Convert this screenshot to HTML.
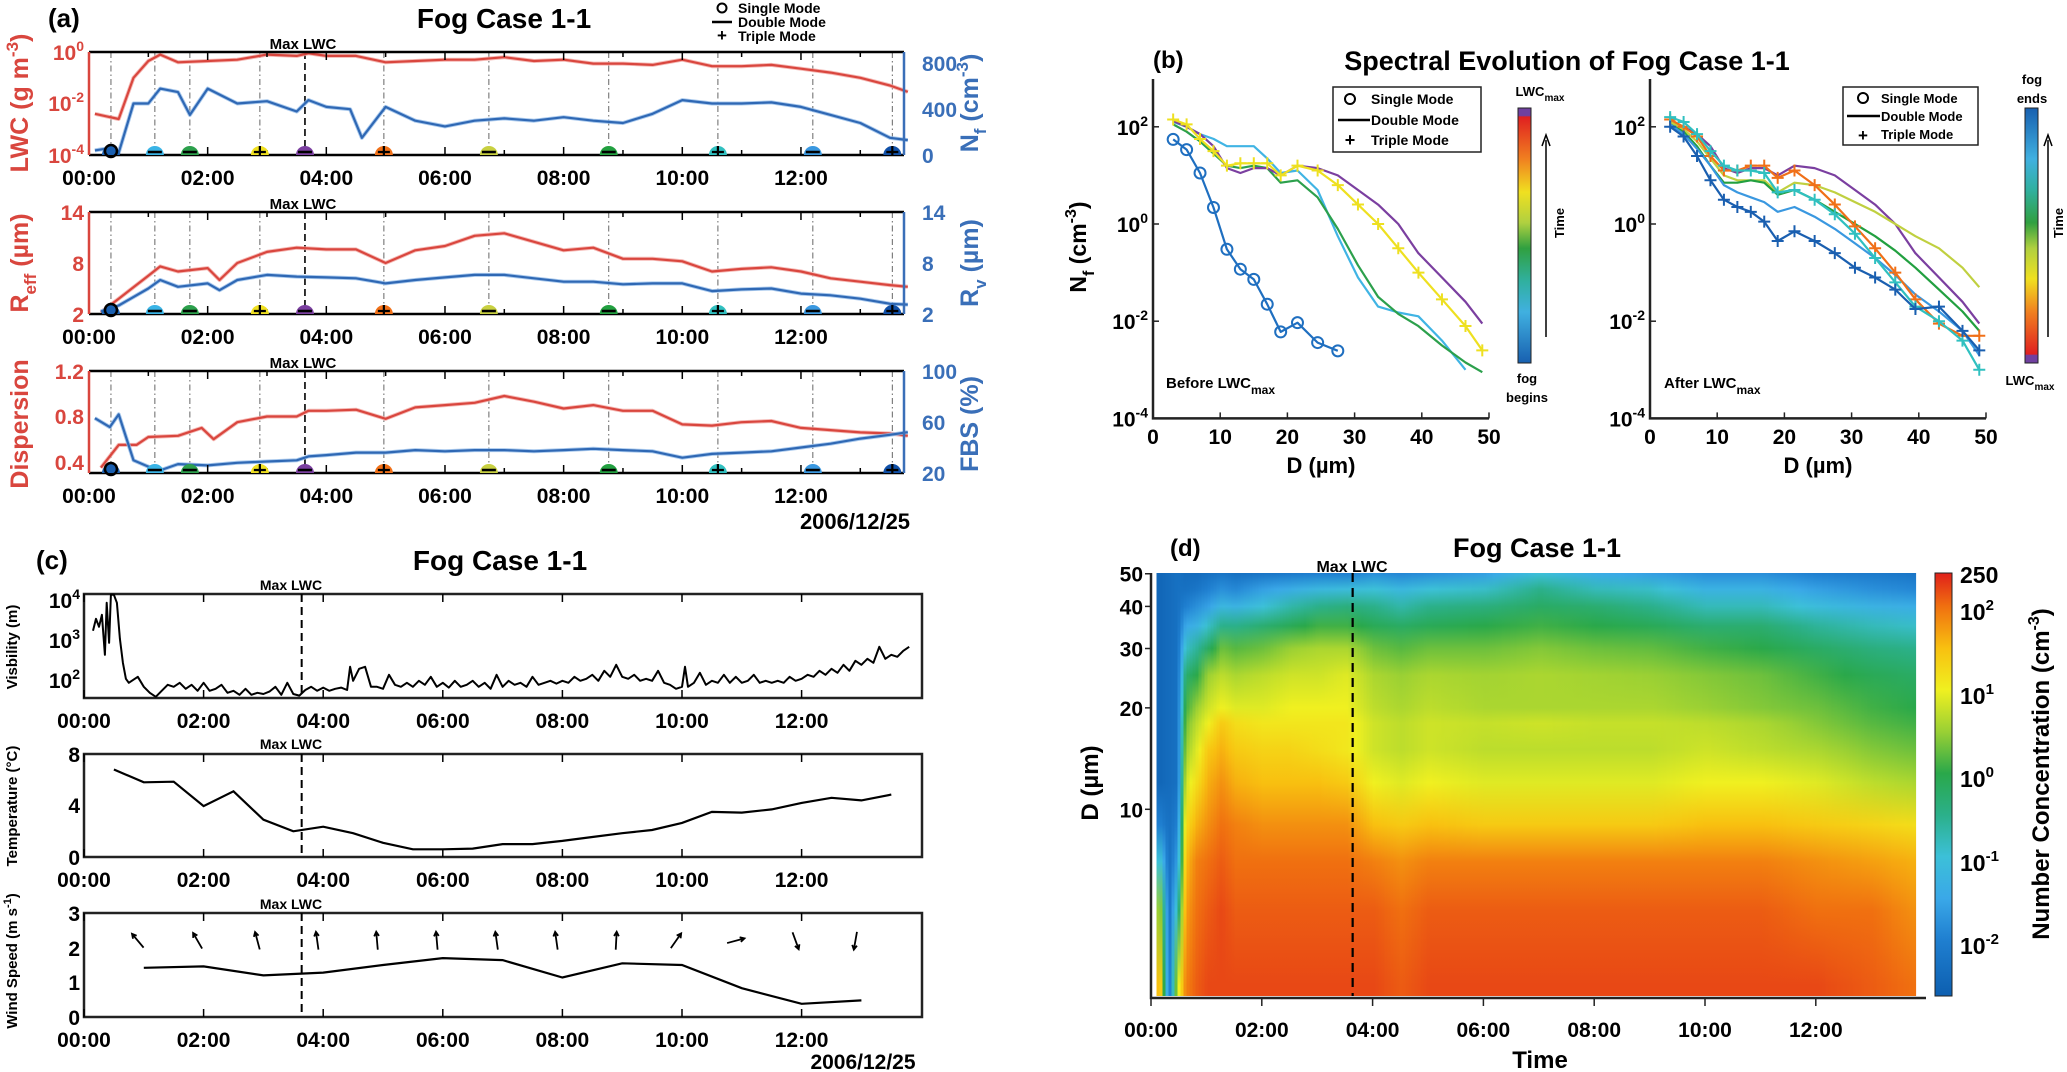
<!DOCTYPE html>
<html><head><meta charset="utf-8"><title>Fog Case 1-1</title>
<style>
html,body{margin:0;padding:0;background:#fff;}
svg{display:block;font-family:"Liberation Sans",Arial,sans-serif;font-weight:bold;}
</style></head>
<body>
<svg id="fig" xmlns="http://www.w3.org/2000/svg" width="2067" height="1072" viewBox="0 0 2067 1072">
<defs>
<linearGradient id="cbLeft" x1="0" y1="0" x2="0" y2="1">
<stop offset="0" stop-color="#7040a0"/><stop offset="0.03" stop-color="#7040a0"/><stop offset="0.035" stop-color="#e02020"/>
<stop offset="0.2" stop-color="#f08020"/><stop offset="0.33" stop-color="#f0e020"/><stop offset="0.45" stop-color="#b0d040"/>
<stop offset="0.55" stop-color="#30a040"/><stop offset="0.68" stop-color="#30b0a0"/><stop offset="0.8" stop-color="#40b0e0"/><stop offset="1" stop-color="#1860b0"/>
</linearGradient>
<linearGradient id="cbRight" x1="0" y1="0" x2="0" y2="1">
<stop offset="0" stop-color="#1860b0"/><stop offset="0.2" stop-color="#40b0e0"/><stop offset="0.32" stop-color="#30b0a0"/>
<stop offset="0.45" stop-color="#30a040"/><stop offset="0.55" stop-color="#b0d040"/><stop offset="0.67" stop-color="#f0e020"/>
<stop offset="0.8" stop-color="#f08020"/><stop offset="0.965" stop-color="#e02020"/><stop offset="0.97" stop-color="#7040a0"/><stop offset="1" stop-color="#7040a0"/>
</linearGradient>
<linearGradient id="cbD" x1="0" y1="0" x2="0" y2="1"></linearGradient>
</defs>

<!-- ============ PANEL A ============ -->
<g id="gA">
<text x="48" y="27" font-size="26">(a)</text>
<text x="504" y="28" font-size="28" text-anchor="middle">Fog Case 1-1</text>
<g>
<circle cx="722" cy="8" r="4.5" fill="none" stroke="#000" stroke-width="2"/>
<text x="738" y="13" font-size="14">Single Mode</text>
<line x1="712" y1="22" x2="732" y2="22" stroke="#000" stroke-width="2.5"/>
<text x="738" y="27" font-size="14">Double Mode</text>
<text x="722" y="41" font-size="17" text-anchor="middle">+</text>
<text x="738" y="41" font-size="14">Triple Mode</text>
</g>
<text x="303" y="49" font-size="15" text-anchor="middle">Max LWC</text>
<text x="303" y="209" font-size="15" text-anchor="middle">Max LWC</text>
<text x="303" y="368" font-size="15" text-anchor="middle">Max LWC</text>
<g fill="#d9463e" font-size="21" text-anchor="end">
<text x="84" y="60">10<tspan dy="-9" font-size="14">0</tspan></text>
<text x="84" y="111">10<tspan dy="-9" font-size="14">-2</tspan></text>
<text x="84" y="163">10<tspan dy="-9" font-size="14">-4</tspan></text>
<text x="84" y="220">14</text><text x="84" y="271">8</text><text x="84" y="322">2</text>
<text x="84" y="379">1.2</text><text x="84" y="424">0.8</text><text x="84" y="470">0.4</text>
</g>
<g fill="#3a6fb8" font-size="21">
<text x="922" y="71">800</text><text x="922" y="117">400</text><text x="922" y="163">0</text>
<text x="922" y="220">14</text><text x="922" y="271">8</text><text x="922" y="322">2</text>
<text x="922" y="379">100</text><text x="922" y="430">60</text><text x="922" y="481">20</text>
</g>
<g fill="#d9463e" font-size="25" text-anchor="middle">
<text transform="translate(28,103) rotate(-90)">LWC (g m<tspan dy="-10" font-size="17">-3</tspan><tspan dy="10">)</tspan></text>
<text transform="translate(28,263) rotate(-90)">R<tspan dy="8" font-size="17">eff</tspan><tspan dy="-8"> (µm)</tspan></text>
<text transform="translate(28,424) rotate(-90)">Dispersion</text>
</g>
<g fill="#3a6fb8" font-size="25" text-anchor="middle">
<text transform="translate(978,103) rotate(-90)">N<tspan dy="8" font-size="17">f</tspan><tspan dy="-8"> (cm</tspan><tspan dy="-10" font-size="17">-3</tspan><tspan dy="10">)</tspan></text>
<text transform="translate(978,263) rotate(-90)">R<tspan dy="8" font-size="17">v</tspan><tspan dy="-8"> (µm)</tspan></text>
<text transform="translate(978,424) rotate(-90)">FBS (%)</text>
</g>
<text x="855" y="529" font-size="22" text-anchor="middle">2006/12/25</text>
</g>

<!-- ============ PANEL B ============ -->
<g id="gB">
<text x="1153" y="68" font-size="24">(b)</text>
<text x="1567" y="70" font-size="27" text-anchor="middle">Spectral Evolution of Fog Case 1-1</text>
<text transform="translate(1086,247) rotate(-90)" font-size="23" text-anchor="middle">N<tspan dy="8" font-size="16">f</tspan><tspan dy="-8"> (cm</tspan><tspan dy="-10" font-size="16">-3</tspan><tspan dy="10">)</tspan></text>
<text x="1321" y="473" font-size="22" text-anchor="middle">D (µm)</text>
<text x="1818" y="473" font-size="22" text-anchor="middle">D (µm)</text>
<text x="1166" y="388" font-size="15">Before LWC<tspan dy="6" font-size="12">max</tspan></text>
<text x="1664" y="388" font-size="15">After LWC<tspan dy="6" font-size="12">max</tspan></text>
<g>
<rect x="1333" y="87" width="148" height="65" fill="#fff" stroke="#222" stroke-width="1.5"/>
<circle cx="1350" cy="99" r="5" fill="none" stroke="#000" stroke-width="2"/><text x="1371" y="104" font-size="14">Single Mode</text>
<line x1="1338" y1="120" x2="1370" y2="120" stroke="#000" stroke-width="2.5"/><text x="1371" y="125" font-size="14">Double Mode</text>
<text x="1350" y="146" font-size="18" text-anchor="middle">+</text><text x="1371" y="145" font-size="14">Triple Mode</text>
</g>
<g>
<rect x="1843" y="87" width="135" height="58" fill="#fff" stroke="#222" stroke-width="1.5"/>
<circle cx="1863" cy="98" r="5" fill="none" stroke="#000" stroke-width="2"/><text x="1881" y="103" font-size="13">Single Mode</text>
<line x1="1847" y1="116" x2="1880" y2="116" stroke="#000" stroke-width="2.5"/><text x="1881" y="121" font-size="13">Double Mode</text>
<text x="1863" y="141" font-size="17" text-anchor="middle">+</text><text x="1881" y="139" font-size="13">Triple Mode</text>
</g>
<g>
<rect x="1518" y="108" width="13" height="255" fill="url(#cbLeft)" stroke="#222" stroke-width="1"/>
<text x="1540" y="96" font-size="13" text-anchor="middle">LWC<tspan dy="5" font-size="10">max</tspan></text>
<text x="1527" y="383" font-size="13" text-anchor="middle">fog</text>
<text x="1527" y="402" font-size="13" text-anchor="middle">begins</text>
<line x1="1546" y1="337" x2="1546" y2="140" stroke="#000" stroke-width="1.5"/><path d="M1542 146 L1546 135 L1550 146" fill="none" stroke="#000" stroke-width="1.5"/>
<text transform="translate(1564,223) rotate(-90)" font-size="13" text-anchor="middle">Time</text>
</g>
<g>
<rect x="2025" y="108" width="13" height="255" fill="url(#cbRight)" stroke="#222" stroke-width="1"/>
<text x="2032" y="84" font-size="13" text-anchor="middle">fog</text>
<text x="2032" y="103" font-size="13" text-anchor="middle">ends</text>
<text x="2030" y="385" font-size="13" text-anchor="middle">LWC<tspan dy="5" font-size="10">max</tspan></text>
<line x1="2048" y1="337" x2="2048" y2="140" stroke="#000" stroke-width="1.5"/><path d="M2044 146 L2048 135 L2052 146" fill="none" stroke="#000" stroke-width="1.5"/>
<text transform="translate(2063,223) rotate(-90)" font-size="13" text-anchor="middle">Time</text>
</g>
</g>

<!-- ============ PANEL C ============ -->
<g id="gC">
<text x="36" y="569" font-size="26">(c)</text>
<text x="500" y="570" font-size="28" text-anchor="middle">Fog Case 1-1</text>
<text x="291" y="590" font-size="14" text-anchor="middle">Max LWC</text>
<text x="291" y="749" font-size="14" text-anchor="middle">Max LWC</text>
<text x="291" y="909" font-size="14" text-anchor="middle">Max LWC</text>
<g font-size="21" text-anchor="end">
<text x="80" y="608">10<tspan dy="-9" font-size="14">4</tspan></text>
<text x="80" y="648">10<tspan dy="-9" font-size="14">3</tspan></text>
<text x="80" y="688">10<tspan dy="-9" font-size="14">2</tspan></text>
<text x="80" y="762">8</text><text x="80" y="813">4</text><text x="80" y="865">0</text>
<text x="80" y="921">3</text><text x="80" y="956">2</text><text x="80" y="990">1</text><text x="80" y="1025">0</text>
</g>
<g font-size="15" text-anchor="middle">
<text transform="translate(17,647) rotate(-90)">Visbility (m)</text>
<text transform="translate(17,806) rotate(-90)">Temperature (°C)</text>
<text transform="translate(17,961) rotate(-90)">Wind Speed (m s<tspan dy="-6" font-size="11">-1</tspan><tspan dy="6">)</tspan></text>
</g>
<text x="863" y="1069" font-size="21" text-anchor="middle">2006/12/25</text>
</g>

<!-- ============ PANEL D ============ -->
<g id="gD">
<text x="1170" y="556" font-size="24">(d)</text>
<text x="1537" y="557" font-size="27" text-anchor="middle">Fog Case 1-1</text>
<g id="heat"></g>
<text x="1352" y="572" font-size="16" text-anchor="middle">Max LWC</text>
<text transform="translate(1098,783) rotate(-90)" font-size="24" text-anchor="middle">D (µm)</text>
<text x="1540" y="1068" font-size="24" text-anchor="middle">Time</text>
<rect x="1935" y="573" width="17" height="423" fill="url(#cbD)" stroke="#222" stroke-width="1"/>
<g font-size="23">
<text x="1960" y="583">250</text>
<text x="1960" y="620">10<tspan dy="-10" font-size="15">2</tspan></text>
<text x="1960" y="704">10<tspan dy="-10" font-size="15">1</tspan></text>
<text x="1960" y="787">10<tspan dy="-10" font-size="15">0</tspan></text>
<text x="1960" y="871">10<tspan dy="-10" font-size="15">-1</tspan></text>
<text x="1960" y="954">10<tspan dy="-10" font-size="15">-2</tspan></text>
</g>
<text transform="translate(2049,774) rotate(-90)" font-size="24" text-anchor="middle">Number Concentration (cm<tspan dy="-10" font-size="16">-3</tspan><tspan dy="10">)</tspan></text>
</g>
</svg>

<script>
// ---------- Panel (a) data ----------
const tLwc=[0.1,0.3,0.5,0.75,1.0,1.2,1.5,2,2.5,3,3.5,3.7,4,4.5,5,5.5,6,6.5,7,7.5,8,8.5,9,9.5,10,10.5,11,11.5,12,12.5,13,13.5,13.8];
const lwcLog=[-2.4,-2.5,-2.6,-1.0,-0.35,-0.1,-0.4,-0.35,-0.3,-0.1,-0.15,-0.05,-0.15,-0.15,-0.4,-0.35,-0.3,-0.3,-0.2,-0.35,-0.3,-0.45,-0.45,-0.5,-0.3,-0.55,-0.55,-0.5,-0.65,-0.8,-1.0,-1.3,-1.55];
const tNf=[0.1,0.35,0.5,0.75,1.0,1.2,1.5,1.7,2.0,2.5,3.0,3.5,3.7,4.0,4.4,4.6,5.0,5.5,6.0,6.5,7.0,7.5,8.0,8.5,9.0,9.5,10.0,10.5,11.0,11.5,12.0,12.5,13.0,13.5,13.8];
const nfVals=[40,60,20,450,450,580,550,350,580,450,470,380,480,420,400,150,420,300,250,300,320,300,330,300,280,360,480,450,450,460,420,350,280,150,130];
const tR=[0.2,0.5,1.0,1.2,1.5,2,2.2,2.5,3,3.5,4,4.5,5,5.5,6,6.5,7,7.5,8,8.5,9,9.5,10,10.5,11,11.5,12,12.5,13,13.5,13.8];
const reffVals=[2.2,3.8,6.5,7.6,7,7.4,6,8,9.3,9.8,9.6,9.6,8,9.5,10,11.2,11.5,10.5,9.5,9.8,8.5,8.5,8.2,7,7.3,7.5,7,6.2,5.8,5.4,5.2];
const rvVals=[2.3,3,5,6,5.2,5.6,4.8,6,6.6,6.4,6.3,6.2,5.6,6,6.3,6.6,6.6,6.2,5.8,5.8,5.5,5.6,5.6,4.7,4.9,5,4.4,4.2,3.8,3.2,3.1];
const tDisp=[0.2,0.5,0.8,1.0,1.5,1.9,2.1,2.5,3,3.5,3.7,4,4.5,5,5.5,6,6.5,7,7.5,8,8.5,9,9.5,10,10.5,11,11.5,12,12.5,13,13.5,13.8];
const dispVals=[0.35,0.55,0.55,0.62,0.63,0.7,0.6,0.75,0.8,0.8,0.85,0.85,0.86,0.78,0.88,0.9,0.92,0.98,0.93,0.87,0.9,0.85,0.85,0.73,0.72,0.75,0.76,0.7,0.68,0.66,0.65,0.63];
const tFbs=[0.1,0.35,0.5,0.75,1.0,1.2,1.5,2,2.5,3,3.5,3.7,4,4.5,5,5.5,6,6.5,7,7.5,8,8.5,9,9.5,10,10.5,11,11.5,12,12.5,13,13.5,13.8];
const fbsVals=[63,56,66,30,25,22,27,26,28,29,30,33,34,36,36,38,37,38,38,37,38,39,38,37,32,35,36,37,40,43,47,50,52];
const markerTimes=[0.37,1.11,1.7,2.88,3.64,4.97,6.74,8.76,10.6,12.2,13.54];
const markerColors=['#1a5fb0','#3ab4e6','#2ca04c','#f0e020','#7b3fa0','#f07018','#c8d040','#22a040','#30c0c0','#3a98e0','#1050a8'];
const markerModes=['s','d','d','t','d','t','d','d','t','d','t'];
const maxLwcTime=3.64;
const hourTicks=[0,2,4,6,8,10,12];
const hourLabels=['00:00','02:00','04:00','06:00','08:00','10:00','12:00'];

// ---------- Panel (c) data ----------
const tVis=[0.15,0.2,0.25,0.3,0.35,0.38,0.42,0.45,0.5,0.55,0.6,0.65,0.7,0.75,
0.8,0.9,1.0,1.1,1.2,1.3,1.4,1.5,1.6,1.7,1.8,1.9,2.0,2.1,2.2,2.3,2.4,2.5,2.6,2.7,2.8,2.9,3.0,3.1,3.2,3.3,3.4,3.5,3.6,3.7,3.8,3.9,
4.0,4.1,4.2,4.3,4.4,4.45,4.5,4.6,4.7,4.8,4.9,5.0,5.1,5.2,5.3,5.4,5.5,5.6,5.7,5.8,5.9,6.0,6.1,6.2,6.3,6.4,6.5,6.6,6.7,6.8,6.9,
7.0,7.1,7.2,7.3,7.4,7.5,7.6,7.7,7.8,7.9,8.0,8.1,8.2,8.3,8.4,8.5,8.6,8.7,8.8,8.9,9.0,9.1,9.2,9.3,9.4,9.5,9.6,9.7,9.8,9.9,
10.0,10.05,10.1,10.2,10.3,10.4,10.5,10.6,10.7,10.8,10.9,11.0,11.1,11.2,11.3,11.4,11.5,11.6,11.7,11.8,11.9,
12.0,12.1,12.2,12.3,12.4,12.5,12.6,12.7,12.8,12.9,13.0,13.1,13.2,13.3,13.4,13.5,13.6,13.7,13.8];
const visLog=[3.2,3.5,3.3,3.6,2.6,3.9,2.9,4.1,4.1,3.9,3.0,2.4,2.0,1.9,
1.95,2.05,1.8,1.65,1.55,1.7,1.85,1.8,1.9,1.75,1.85,1.7,1.9,1.7,1.75,1.85,1.65,1.7,1.6,1.75,1.6,1.65,1.62,1.68,1.8,1.6,1.9,1.62,1.58,1.72,1.8,1.7,
1.78,1.7,1.75,1.78,1.72,2.3,1.95,2.25,2.3,1.8,1.8,1.75,2.1,1.85,1.8,1.9,1.8,1.95,1.85,2.05,1.8,1.9,1.78,1.95,1.8,1.85,1.95,1.8,1.9,1.75,2.1,
1.8,1.95,1.85,1.9,1.8,2.05,1.85,1.9,1.95,1.88,1.95,1.9,2.05,1.95,2.0,2.1,1.95,2.2,2.05,2.35,2.05,2.0,2.1,1.95,2.0,1.95,2.2,1.9,1.85,1.75,
1.8,2.3,1.8,1.9,2.15,1.85,1.95,1.9,2.1,1.9,2.05,1.9,1.95,2.1,1.9,1.95,1.9,1.95,1.9,2.05,1.95,
2.0,2.1,2.05,2.2,2.1,2.25,2.15,2.35,2.2,2.45,2.35,2.5,2.4,2.8,2.5,2.6,2.55,2.7,2.8];
const tTemp=[0.5,1,1.5,2,2.5,3,3.5,4,4.5,5,5.5,6,6.5,7,7.5,8,8.5,9,9.5,10,10.5,11,11.5,12,12.5,13,13.5];
const tempVals=[6.8,5.8,5.85,3.95,5.1,2.9,2.0,2.35,1.85,1.1,0.6,0.6,0.65,1.0,1.0,1.25,1.55,1.85,2.1,2.65,3.5,3.45,3.7,4.2,4.6,4.4,4.85];
const tWind=[1,2,3,4,5,6,7,8,9,10,11,12,13];
const windVals=[1.42,1.46,1.2,1.28,1.5,1.7,1.64,1.14,1.55,1.5,0.83,0.38,0.48];
const windDir=[-40,-30,-15,-8,-5,-5,-8,-8,3,35,75,160,190];

// ---------- Panel (b) data ----------
const dBins=[3,5,7,9,11,13,15,17,19,21.5,24.5,27.5,30.5,33.5,36.5,39.5,43,46.5,49];
const specSingle=[1.74,1.53,1.05,0.34,-0.52,-0.93,-1.14,-1.65,-2.22,-2.03,-2.44,-2.61];
const specBeforeCyan=[2.1,2.0,1.85,1.75,1.6,1.6,1.6,1.35,1.05,1.1,0.7,-0.25,-1.1,-1.7,-1.82,-1.9,-2.4,-3.0];
const specBeforeGreen=[2.05,1.9,1.7,1.45,1.2,1.15,1.2,1.15,0.85,0.9,0.55,-0.1,-0.85,-1.5,-1.85,-2.1,-2.5,-2.85,-3.05];
const specYellow=[2.15,2.05,1.75,1.5,1.2,1.25,1.25,1.25,1.0,1.2,1.1,0.8,0.4,0.0,-0.5,-1.0,-1.55,-2.1,-2.6];
const specPurple=[2.12,2.0,1.85,1.6,1.15,1.05,1.15,1.15,1.0,1.2,1.15,1.0,0.7,0.4,0.0,-0.6,-1.1,-1.6,-2.05];
const specOrange=[2.15,2.0,1.8,1.4,1.1,1.1,1.2,1.2,0.95,1.1,0.8,0.4,-0.05,-0.5,-1.0,-1.55,-2.05,-2.3,-2.3];
const specYGreen=[2.1,1.95,1.7,1.35,1.0,0.9,0.9,0.9,0.65,0.85,0.8,0.65,0.45,0.25,0.0,-0.25,-0.5,-0.9,-1.3];
const specAfterGreen=[2.05,1.9,1.6,1.2,0.85,0.85,0.9,0.85,0.6,0.7,0.5,0.25,0.0,-0.25,-0.55,-0.9,-1.35,-1.8,-2.2];
const specTeal=[2.2,2.1,1.85,1.5,1.2,1.1,1.1,1.05,0.65,0.7,0.5,0.2,-0.2,-0.7,-1.2,-1.7,-2.0,-2.4,-3.0];
const specLightBlue=[2.05,1.85,1.55,1.2,0.8,0.65,0.55,0.45,0.25,0.35,0.15,-0.1,-0.4,-0.7,-1.05,-1.45,-1.8,-2.2,-2.7];
const specDarkBlue=[2.0,1.8,1.4,0.9,0.5,0.35,0.25,0.05,-0.35,-0.15,-0.35,-0.6,-0.9,-1.1,-1.35,-1.75,-1.7,-2.2,-2.6];
const bDTicks=[0,10,20,30,40,50];
const bLogTicks=[2,0,-2,-4];

// ---------- Panel (d) data ----------
const dGrid=[3,5,7,9,12,15,18,20,25,30,35,40,45,50];
const tMap=[0.15,0.3,0.45,0.6,0.8,1.0,1.25,1.5,2,2.5,3,3.5,4,4.5,5,6,7,8,9,10,11,12,13,13.75];
const mapRows=[
[1.5,0.5,-1,-2,-2.5,-2.5,-2.5,-2.5,-2.5,-2.5,-2.5,-2.5,-2.5,-2.5],
[-2.3,-2.3,-2.3,-2.3,-2.4,-2.4,-2.4,-2.4,-2.4,-2.4,-2.4,-2.4,-2.4,-2.4],
[0.8,-0.8,-1.6,-2,-2.3,-2.3,-2.3,-2.3,-2.3,-2.3,-2.3,-2.3,-2.3,-2.3],
[1.9,1.7,1.5,1.2,0.8,0.5,0.3,0.1,-0.3,-0.9,-1.5,-2.0,-2.3,-2.4],
[2.1,2.0,1.9,1.6,1.2,0.9,0.7,0.5,0,-0.6,-1.3,-1.8,-2.2,-2.4],
[2.2,2.1,2.0,1.8,1.6,1.4,1.0,0.8,0.5,-0.2,-0.9,-1.6,-2.0,-2.3],
[2.2,2.2,2.1,2.0,1.8,1.6,1.4,1.0,0.7,0.3,-0.5,-1.2,-1.8,-2.2],
[2.2,2.1,2.0,1.9,1.6,1.4,1.2,0.9,0.6,0.2,-0.5,-1.3,-1.9,-2.3],
[2.2,2.1,2.0,1.8,1.5,1.3,1.1,0.9,0.7,0.3,-0.3,-1.0,-1.6,-2.2],
[2.2,2.1,2.0,1.8,1.5,1.3,1.1,1.0,0.8,0.5,-0.1,-0.7,-1.4,-2.1],
[2.2,2.1,2.0,1.8,1.5,1.2,1.1,1.0,0.8,0.6,0.1,-0.5,-1.2,-2.0],
[2.2,2.1,2.0,1.8,1.4,1.1,1.1,1.0,0.9,0.6,0.1,-0.4,-1.1,-2.0],
[2.2,2.1,1.9,1.5,1.0,0.8,0.8,0.7,0.6,0.3,-0.1,-0.5,-1.0,-1.8],
[2.1,2.0,1.8,1.4,0.9,0.7,0.7,0.6,0.5,0.2,-0.2,-0.7,-1.2,-1.9],
[2.2,2.1,1.9,1.5,1.0,0.8,0.8,0.7,0.6,0.3,-0.1,-0.5,-1.0,-1.8],
[2.2,2.1,1.9,1.4,0.9,0.7,0.75,0.6,0.55,0.3,0,-0.4,-0.9,-1.6],
[2.2,2.1,1.9,1.4,0.9,0.7,0.8,0.6,0.6,0.4,0.1,-0.2,-0.5,-1.0],
[2.2,2.1,1.9,1.4,0.9,0.7,0.75,0.6,0.55,0.3,0,-0.3,-0.8,-1.4],
[2.2,2.1,1.9,1.4,0.9,0.7,0.75,0.6,0.5,0.25,-0.1,-0.5,-0.9,-1.6],
[2.2,2.1,1.9,1.5,1.0,0.8,0.7,0.5,0.4,0.1,-0.3,-0.8,-1.3,-1.8],
[2.2,2.1,1.9,1.5,1.0,0.7,0.6,0.4,0.3,0,-0.3,-0.8,-1.3,-1.8],
[2.2,2.0,1.8,1.4,0.9,0.6,0.4,0.3,0.1,-0.2,-0.6,-1.1,-1.6,-2.0],
[2.1,2.0,1.7,1.3,0.7,0.4,0.2,0.1,-0.1,-0.4,-0.8,-1.3,-1.8,-2.1],
[2.0,1.8,1.6,1.2,0.6,0.3,0.1,0,-0.2,-0.5,-0.9,-1.4,-1.9,-2.2]];
const dTicks=[10,20,30,40,50];
const cmapLevels=[-2.67,-2,-1.5,-1,-0.5,0,0.5,1,1.5,2,2.4];
const cmapColors=['#0d5fb0','#1f7fd0','#3aa8e8','#3cc0d8','#2bb08a','#2aa84a','#9ad034','#f0f020','#f8c010','#f07010','#e0201a'];

// ---------- helpers ----------
const NS='http://www.w3.org/2000/svg';
const svg=document.getElementById('fig');
function mk(tag,attrs,parent){const e=document.createElementNS(NS,tag);for(const k in attrs)e.setAttribute(k,attrs[k]);(parent||svg).appendChild(e);return e;}
function pathD(xs,ys,fx,fy){return xs.map((x,i)=>(i?'L':'M')+fx(x).toFixed(1)+' '+fy(ys[i]).toFixed(1)).join(' ');}
function hex2rgb(h){return [parseInt(h.substr(1,2),16),parseInt(h.substr(3,2),16),parseInt(h.substr(5,2),16)];}
function cmap(v){
  if(v<=cmapLevels[0])return cmapColors[0];
  const n=cmapLevels.length;
  if(v>=cmapLevels[n-1])return cmapColors[n-1];
  for(let i=0;i<n-1;i++){if(v<=cmapLevels[i+1]){const f=(v-cmapLevels[i])/(cmapLevels[i+1]-cmapLevels[i]);const a=hex2rgb(cmapColors[i]),b=hex2rgb(cmapColors[i+1]);return 'rgb('+a.map((c,j)=>Math.round(c+(b[j]-c)*f)).join(',')+')';}}
}
const gA=document.getElementById('gA'),gB=document.getElementById('gB'),gC=document.getElementById('gC'),gD=document.getElementById('gD');

// ---------- Panel (a) axes ----------
const xA=h=>89+h*59.33;
const A_RIGHT=904;
const subA=[{top:52,bot:155},{top:212,bot:314},{top:371,bot:473}];
const yLwc=v=>155-(v+4)/4*103;
const yNf=v=>155-v/900*103;
const yR=v=>314-(v-2)/12*102;
const yDisp=v=>473-(v-0.303)/(1.2-0.303)*102;
const yFbs=v=>473-(v-20)/80*102;

subA.forEach((s,si)=>{
  markerTimes.forEach((t,i)=>{
    const isMax=(i===4);
    const l=mk('line',{x1:xA(t),x2:xA(t),y1:s.top,y2:s.bot,stroke:isMax?'#000':'#666','stroke-width':isMax?1.6:1,'stroke-dasharray':isMax?'7,4':'6,3,1.5,3'},gA);
    
    
  });
});

function drawSeries(xs,ys,fy,colMain,colLight,name){
  const light=mk('path',{d:pathD(xs,ys,xA,fy),fill:'none',stroke:colLight,'stroke-width':4,'stroke-linejoin':'round',opacity:0.8},gA);
  
  
  const main=mk('path',{d:pathD(xs,ys,xA,fy),fill:'none',stroke:colMain,'stroke-width':2.2,'stroke-linejoin':'round'},gA);
  
  
}
drawSeries(tLwc,lwcLog,yLwc,'#d9463e','#f2a8a3','lwc-line');
drawSeries(tNf,nfVals,yNf,'#2f68b4','#93bce8','nf-line');
drawSeries(tR,reffVals,yR,'#d9463e','#f2a8a3','reff-line');
drawSeries(tR,rvVals,yR,'#2f68b4','#93bce8','rv-line');
drawSeries(tDisp,dispVals,yDisp,'#d9463e','#f2a8a3','dispersion-line');
drawSeries(tFbs,fbsVals,yFbs,'#2f68b4','#93bce8','fbs-line');

subA.forEach((s,si)=>{
  const top=mk('line',{x1:89,x2:A_RIGHT,y1:s.top,y2:s.top,stroke:'#000','stroke-width':2.5},gA);
  
  
  const bot=mk('line',{x1:89,x2:A_RIGHT,y1:s.bot,y2:s.bot,stroke:'#000','stroke-width':2.5},gA);
  
  
  const lf=mk('line',{x1:89,x2:89,y1:s.top,y2:s.bot,stroke:'#d9463e','stroke-width':2.5},gA);
  
  
  const rt=mk('line',{x1:A_RIGHT,x2:A_RIGHT,y1:s.top,y2:s.bot,stroke:'#3a6fb8','stroke-width':2.5},gA);
  
  
  for(let h=1;h<=13;h++){
    const tk=mk('line',{x1:xA(h),x2:xA(h),y1:s.bot,y2:s.bot-(h%2===0?8:5),stroke:'#000','stroke-width':1.5},gA);
    
    
    const tt=mk('line',{x1:xA(h),x2:xA(h),y1:s.top,y2:s.top+(h%2===0?8:5),stroke:'#000','stroke-width':1.5},gA);
    
    
  }
  hourTicks.forEach((h,i)=>{
    const t=mk('text',{x:xA(h),y:s.bot+30,'font-size':21,'text-anchor':'middle'},gA);
    t.textContent=hourLabels[i];
    
    
  });
  markerTimes.forEach((t,i)=>{
    const x=xA(t),yb=s.bot,r=9;
    const m=mk('path',{d:`M${x-r} ${yb} A${r} ${r} 0 0 1 ${x+r} ${yb} Z`,fill:markerColors[i],stroke:'none'},gA);
    
    
    const mode=markerModes[i];
    let sym;
    if(mode==='d'){sym=mk('line',{x1:x-7,x2:x+7,y1:yb-3,y2:yb-3,stroke:'#000','stroke-width':2.5},gA);}
    else if(mode==='t'){sym=mk('path',{d:`M${x-6} ${yb-3} H${x+6} M${x} ${yb-9} V${yb+1}`,stroke:'#000','stroke-width':2.2,fill:'none'},gA);}
    else{sym=mk('circle',{cx:x,cy:yb-4,r:6,fill:'none',stroke:'#000','stroke-width':2.5},gA);}
    
    
  });
});

// ---------- Panel (c) ----------
const xC=h=>84+h*59.8;
const C_RIGHT=922;
const subC=[{top:594,bot:698},{top:754,bot:857},{top:913,bot:1017}];
const yVis=v=>Math.min(698,698-(v-1.52)/2.6*104);
const yT=v=>857-v/8*103;
const yW=v=>1017-v/3*104;

subC.forEach((s,si)=>{
  const fr=mk('rect',{x:84,y:s.top,width:C_RIGHT-84,height:s.bot-s.top,fill:'none',stroke:'#222','stroke-width':2.5},gC);
  
  
  const ml=mk('line',{x1:xC(maxLwcTime),x2:xC(maxLwcTime),y1:s.top,y2:s.bot,stroke:'#000','stroke-width':2,'stroke-dasharray':'8,5'},gC);
  
  
  hourTicks.forEach((h,i)=>{
    const tk=mk('line',{x1:xC(h),x2:xC(h),y1:s.bot,y2:s.bot-8,stroke:'#000','stroke-width':1.5},gC);
    
    
    const tt=mk('line',{x1:xC(h),x2:xC(h),y1:s.top,y2:s.top+8,stroke:'#000','stroke-width':1.5},gC);
    
    
    const t=mk('text',{x:xC(h),y:s.bot+30,'font-size':21,'text-anchor':'middle'},gC);
    t.textContent=hourLabels[i];
    
    
  });
});
const visLine=mk('path',{d:pathD(tVis,visLog,xC,yVis),fill:'none',stroke:'#000','stroke-width':2,'stroke-linejoin':'round'},gC);


const tempLine=mk('path',{d:pathD(tTemp,tempVals,xC,yT),fill:'none',stroke:'#000','stroke-width':2.2},gC);


const windLine=mk('path',{d:pathD(tWind,windVals,xC,yW),fill:'none',stroke:'#000','stroke-width':2.2},gC);


tWind.forEach((t,i)=>{
  const cx=xC(t)-6,cy=yW(2.2),L=9,a=windDir[i]*Math.PI/180;
  const dx=Math.sin(a)*L,dy=-Math.cos(a)*L;
  const tx=cx+dx,ty=cy+dy;
  const hx1=tx-Math.sin(a-0.5)*5,hy1=ty+Math.cos(a-0.5)*5,hx2=tx-Math.sin(a+0.5)*5,hy2=ty+Math.cos(a+0.5)*5;
  const ar=mk('path',{d:`M${cx-dx} ${cy-dy} L${tx} ${ty} M${hx1} ${hy1} L${tx} ${ty} L${hx2} ${hy2}`,stroke:'#000','stroke-width':1.8,fill:'none'},gC);
  
  
});

// ---------- Panel (b) ----------
const xB1=d=>1153+d*6.72, xB2=d=>1650+d*6.72;
const yB=lg=>224-lg*48.6;
[[xB1,'left'],[xB2,'right']].forEach(([fx,side])=>{
  const ax=mk('path',{d:`M${fx(0)} 79 V${yB(-4)} H${fx(50)}`,fill:'none',stroke:'#222','stroke-width':2.5},gB);
  
  
  bDTicks.forEach(d=>{
    const t=mk('text',{x:fx(d),y:444,'font-size':21,'text-anchor':'middle'},gB);
    t.textContent=String(d);
    
    
    const tk=mk('line',{x1:fx(d),x2:fx(d),y1:yB(-4),y2:yB(-4)-6,stroke:'#222','stroke-width':1.5},gB);
    
    
  });
  bLogTicks.forEach(lg=>{
    const t=mk('text',{x:fx(0)-5,y:yB(lg)+8,'font-size':21,'text-anchor':'end'},gB);
    t.textContent='10';
    const sp=mk('tspan',{dy:-9,'font-size':14},t);
    sp.textContent=String(lg);
    
    
    const tk=mk('line',{x1:fx(0),x2:fx(0)+6,y1:yB(lg),y2:yB(lg),stroke:'#222','stroke-width':1.5},gB);
    
    
  });
});
function drawSpec(fx,vals,color,mode,name){
  const ds=dBins.slice(0,vals.length);
  const p=mk('path',{d:pathD(ds,vals,fx,yB),fill:'none',stroke:color,'stroke-width':2.2,'stroke-linejoin':'round'},gB);
  
  
  if(mode==='t'){ds.forEach((d,i)=>{const x=fx(d),y=yB(vals[i]);const m=mk('path',{d:`M${x-6} ${y} H${x+6} M${x} ${y-6} V${y+6}`,stroke:color,'stroke-width':2,fill:'none'},gB);
    
    });}
  if(mode==='s'){ds.forEach((d,i)=>{const m=mk('circle',{cx:fx(d),cy:yB(vals[i]),r:5.5,fill:'none',stroke:color,'stroke-width':2},gB);
    
    });}
}
drawSpec(xB1,specBeforeCyan,'#40b4e4','d','spectrum-before-1h');
drawSpec(xB1,specBeforeGreen,'#2ca04c','d','spectrum-before-1h40');
drawSpec(xB1,specPurple,'#7b3fa0','d','spectrum-lwcmax-left');
drawSpec(xB1,specYellow,'#eee020','t','spectrum-before-2h50');
drawSpec(xB1,specSingle,'#1f6fc0','s','spectrum-fog-begins');
drawSpec(xB2,specPurple,'#7b3fa0','d','spectrum-lwcmax-right');
drawSpec(xB2,specYGreen,'#c0d040','d','spectrum-after-6h40');
drawSpec(xB2,specAfterGreen,'#22a040','d','spectrum-after-8h45');
drawSpec(xB2,specLightBlue,'#3a98e0','d','spectrum-after-12h10');
drawSpec(xB2,specOrange,'#f07018','t','spectrum-after-5h');
drawSpec(xB2,specTeal,'#30c0c0','t','spectrum-after-10h35');
drawSpec(xB2,specDarkBlue,'#1a5fb0','t','spectrum-fog-ends');

// ---------- Panel (d) ----------
const xD=h=>1151+h*55.4;
const D_TOP=573,D_BOT=996;
const yD=d=>D_BOT-(Math.log10(d)-0.446)*337;
const defs=svg.querySelector('defs');
const heat=document.getElementById('heat');
function profileAt(h){
  if(h<=tMap[0])return mapRows[0];
  for(let i=0;i<tMap.length-1;i++){if(h<=tMap[i+1]){const f=(h-tMap[i])/(tMap[i+1]-tMap[i]);return mapRows[i].map((v,j)=>v+(mapRows[i+1][j]-v)*f);}}
  return mapRows[mapRows.length-1];
}
const hStart=0.1,hEnd=13.78,step=3;
for(let x=xD(hStart),k=0;x<xD(hEnd);x+=step,k++){
  const h=(x-1151)/55.4;
  const prof=profileAt(h);
  const g=mk('linearGradient',{id:'hc'+k,gradientUnits:'userSpaceOnUse',x1:0,y1:D_TOP,x2:0,y2:D_BOT},defs);
  for(let j=dGrid.length-1;j>=0;j--){
    const off=Math.min(1,Math.max(0,(yD(dGrid[j])-D_TOP)/(D_BOT-D_TOP)));
    mk('stop',{offset:off.toFixed(4),'stop-color':cmap(prof[j])},g);
  }
  mk('stop',{offset:1,'stop-color':cmap(prof[0])},g);
  const r=mk('rect',{x:x.toFixed(1),y:D_TOP,width:step+0.6,height:D_BOT-D_TOP,fill:'url(#hc'+k+')'},heat);
  
  
}
const cbD=document.getElementById('cbD');
for(let i=cmapLevels.length-1;i>=0;i--){
  const off=(2.4-cmapLevels[i])/(2.4+2.67);
  mk('stop',{offset:off.toFixed(4),'stop-color':cmapColors[i]},cbD);
}
const dAx=mk('path',{d:`M1151 ${D_TOP} V${D_BOT+2} H1926`,fill:'none',stroke:'#222','stroke-width':2.5},gD);


const dMax=mk('line',{x1:xD(maxLwcTime),x2:xD(maxLwcTime),y1:D_TOP,y2:D_BOT,stroke:'#000','stroke-width':2.2,'stroke-dasharray':'9,6'},gD);


hourTicks.forEach((h,i)=>{
  const tk=mk('line',{x1:xD(h),x2:xD(h),y1:D_BOT+2,y2:D_BOT+10,stroke:'#222','stroke-width':1.5},gD);
  
  
  const t=mk('text',{x:xD(h),y:1037,'font-size':21,'text-anchor':'middle'},gD);
  t.textContent=hourLabels[i];
  
  
});
dTicks.forEach(d=>{
  const t=mk('text',{x:1143,y:yD(d)+8,'font-size':21,'text-anchor':'end'},gD);
  t.textContent=String(d);
  
  
  const tk=mk('line',{x1:1145,x2:1151,y1:yD(d),y2:yD(d),stroke:'#222','stroke-width':1.5},gD);
  
  
});
</script>
</body></html>
